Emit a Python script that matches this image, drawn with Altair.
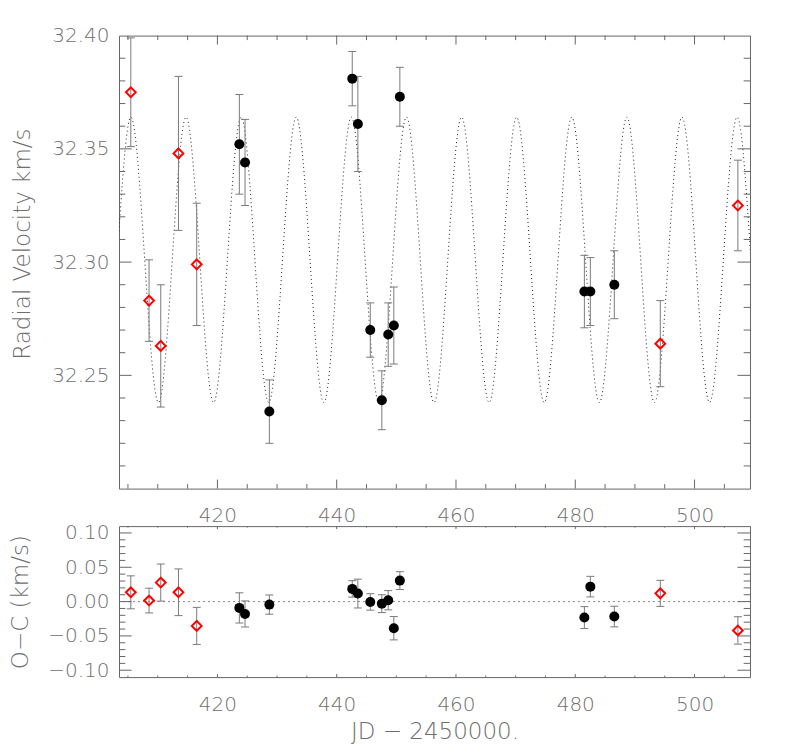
import altair as alt
import pandas as pd

# ---------------- data ----------------
# red open diamonds (JD - 2450000, radial velocity km/s, error km/s, O-C km/s)
red_jd = [405.48, 408.54, 410.50, 413.47, 416.53, 494.26, 507.27]
red_rv = [32.375, 32.283, 32.263, 32.348, 32.299, 32.264, 32.325]
red_err = [0.024, 0.018, 0.027, 0.034, 0.027, 0.019, 0.020]
red_oc = [0.0135, 0.0015, 0.0277, 0.0136, -0.0354, 0.0120, -0.0420]

# black filled circles
blk_jd = [423.68, 424.63, 428.71, 442.61, 443.55, 445.63, 447.57, 448.64,
          449.58, 450.59, 481.53, 482.53, 486.55]
blk_rv = [32.352, 32.344, 32.234, 32.381, 32.361, 32.270, 32.239, 32.268,
          32.272, 32.373, 32.287, 32.287, 32.290]
blk_err = [0.022, 0.019, 0.014, 0.012, 0.021, 0.012, 0.013, 0.014,
           0.017, 0.013, 0.016, 0.015, 0.015]
blk_oc = [-0.0092, -0.0180, -0.0044, 0.0185, 0.0117, -0.0005, -0.0030, 0.0020,
          -0.0388, 0.0306, -0.0233, 0.0218, -0.0218]

# orbit model curve: maxima / minima (smoothly joined)
curve_jd = [396.26, 400.88, 405.50, 410.12, 414.74, 419.36, 423.98, 428.60,
            433.22, 437.84, 442.46, 447.08, 451.70, 456.32, 460.94, 465.56,
            470.18, 474.80, 479.42, 484.04, 488.66, 493.28, 497.90, 502.52,
            507.14, 511.76, 516.38]
curve_rv = [32.364, 32.238, 32.364, 32.238, 32.364, 32.238, 32.364, 32.238,
            32.364, 32.238, 32.364, 32.238, 32.364, 32.238, 32.364, 32.238,
            32.364, 32.238, 32.364, 32.238, 32.364, 32.238, 32.364, 32.238,
            32.364, 32.238, 32.364]

# axis tick values
x_labels = [420, 440, 460, 480, 500]
x_minor = [405, 410, 415, 425, 430, 435, 445, 450, 455, 465, 470, 475,
           485, 490, 495, 505]
rv_labels = [32.25, 32.30, 32.35, 32.40]
rv_major = [32.25, 32.30, 32.35]
rv_minor = [32.21, 32.22, 32.23, 32.24, 32.26, 32.27, 32.28, 32.29, 32.31,
            32.32, 32.33, 32.34, 32.36, 32.37, 32.38, 32.39]
oc_labels = [-0.10, -0.05, 0.00, 0.05, 0.10]
oc_minor = [-0.09, -0.08, -0.07, -0.06, -0.04, -0.03, -0.02, -0.01,
            0.01, 0.02, 0.03, 0.04, 0.06, 0.07, 0.08, 0.09]

X_DOMAIN = [403.5, 509.3]
RV_DOMAIN = [32.20, 32.40]
OC_DOMAIN = [-0.11, 0.11]

# ---------------- styling ----------------
W = 631
H_TOP = 453
H_BOT = 151
FRAME = "#666666"
ERRC = "#7a7a7a"
TXT = "#6e6e6e"
FONT = "DejaVu Sans"
FW = 200

red_df = pd.DataFrame({"jd": red_jd, "rv": red_rv, "err": red_err, "oc": red_oc})
blk_df = pd.DataFrame({"jd": blk_jd, "rv": blk_rv, "err": blk_err, "oc": blk_oc})
for d in (red_df, blk_df):
    d["rv_lo"] = d["rv"] - d["err"]
    d["rv_hi"] = d["rv"] + d["err"]
    d["oc_lo"] = d["oc"] - d["err"]
    d["oc_hi"] = d["oc"] + d["err"]
curve_df = pd.DataFrame({"jd": curve_jd, "rv": curve_rv})

xscale = alt.Scale(domain=X_DOMAIN, nice=False, zero=False)
rvscale = alt.Scale(domain=RV_DOMAIN, nice=False, zero=False)
ocscale = alt.Scale(domain=OC_DOMAIN, nice=False, zero=False)


def tick_layers(yscale, xaxis, yaxis, ymaj, ymin, H, xlen, ylen):
    layers = []
    for vals, L in ((x_labels, xlen), (x_minor, xlen / 2)):
        base = alt.Chart(pd.DataFrame({"v": vals})).mark_rule(color=FRAME, strokeWidth=1)
        xe = alt.X("v:Q", scale=xscale, axis=xaxis)
        layers.append(base.encode(x=xe, y=alt.value(H), y2=alt.value(H - L)))
        layers.append(base.encode(x=xe, y=alt.value(0), y2=alt.value(L)))
    for vals, L in ((ymaj, ylen), (ymin, ylen / 2)):
        base = alt.Chart(pd.DataFrame({"v": vals})).mark_rule(color=FRAME, strokeWidth=1)
        ye = alt.Y("v:Q", scale=yscale, axis=yaxis)
        layers.append(base.encode(y=ye, x=alt.value(0), x2=alt.value(L)))
        layers.append(base.encode(y=ye, x=alt.value(W), x2=alt.value(W - L)))
    return layers


def data_layers(yscale, ycol, lo, hi, xaxis, yaxis):
    layers = []
    for df in (blk_df, red_df):
        b = alt.Chart(df)
        layers.append(b.mark_rule(color=ERRC, strokeWidth=1).encode(
            x=alt.X("jd:Q", scale=xscale, axis=xaxis),
            y=alt.Y(f"{lo}:Q", scale=yscale, axis=yaxis),
            y2=f"{hi}:Q"))
        for c in (lo, hi):
            layers.append(b.mark_tick(orient="horizontal", size=8, thickness=1,
                                      color=ERRC, opacity=1).encode(
                x=alt.X("jd:Q", scale=xscale, axis=xaxis),
                y=alt.Y(f"{c}:Q", scale=yscale, axis=yaxis)))
    layers.append(alt.Chart(blk_df).mark_point(
        shape="circle", filled=True, size=100, color="black", opacity=1).encode(
        x=alt.X("jd:Q", scale=xscale, axis=xaxis),
        y=alt.Y(f"{ycol}:Q", scale=yscale, axis=yaxis)))
    layers.append(alt.Chart(red_df).mark_point(
        shape="diamond", filled=False, size=95, stroke="#ff0000", strokeWidth=2,
        opacity=1).encode(
        x=alt.X("jd:Q", scale=xscale, axis=xaxis),
        y=alt.Y(f"{ycol}:Q", scale=yscale, axis=yaxis)))
    return layers


common_axis = dict(grid=False, ticks=False, domain=False, labelFont=FONT,
                   labelFontSize=20, labelColor=TXT, labelFontWeight=FW,
                   titleFont=FONT, titleFontSize=23, titleColor=TXT,
                   titleFontWeight=FW)

top_x_axis = alt.Axis(values=x_labels, format="d", labelPadding=17, title=None,
                      labelFlush=False, **common_axis)
top_y_axis = alt.Axis(values=rv_labels, format=".2f", labelPadding=10,
                      title="Radial Velocity km/s", titleX=-85, titleY=208,
                      **common_axis)

bot_x_axis = alt.Axis(values=x_labels, format="d", labelPadding=17,
                      title="JD \u2212 2450000.", titlePadding=6,
                      labelFlush=False, **common_axis)
bot_y_axis = alt.Axis(values=oc_labels, format=".2f", labelPadding=10,
                      title="O\u2212C (km/s)", titleX=-87, **common_axis)

curve = alt.Chart(curve_df).mark_line(
    clip=True, interpolate="monotone", color="#222222", strokeWidth=1,
    strokeDash=[1, 3]).encode(
    x=alt.X("jd:Q", scale=xscale, axis=top_x_axis),
    y=alt.Y("rv:Q", scale=rvscale, axis=top_y_axis))

top = alt.layer(
    curve,
    *data_layers(rvscale, "rv", "rv_lo", "rv_hi", top_x_axis, top_y_axis),
    *tick_layers(rvscale, top_x_axis, top_y_axis, rv_major, rv_minor, H_TOP, 9, 12.6),
).properties(width=W, height=H_TOP)

zero_line = alt.Chart(pd.DataFrame({"z": [0.0]})).mark_rule(
    color="#888888", strokeWidth=1, strokeDash=[2, 3]).encode(
    y=alt.Y("z:Q", scale=ocscale, axis=bot_y_axis))

bottom = alt.layer(
    zero_line,
    *data_layers(ocscale, "oc", "oc_lo", "oc_hi", bot_x_axis, bot_y_axis),
    *tick_layers(ocscale, bot_x_axis, bot_y_axis, oc_labels, oc_minor, H_BOT, 3, 12.6),
).properties(width=W, height=H_BOT)

chart = alt.vconcat(top, bottom, spacing=37.5, bounds="flush").properties(
    padding={"left": 0, "top": 16.6, "right": 5, "bottom": 5}
).configure_view(stroke=FRAME, strokeWidth=1)

chart.save("out.html", embed_options={"renderer": "svg", "actions": False})
